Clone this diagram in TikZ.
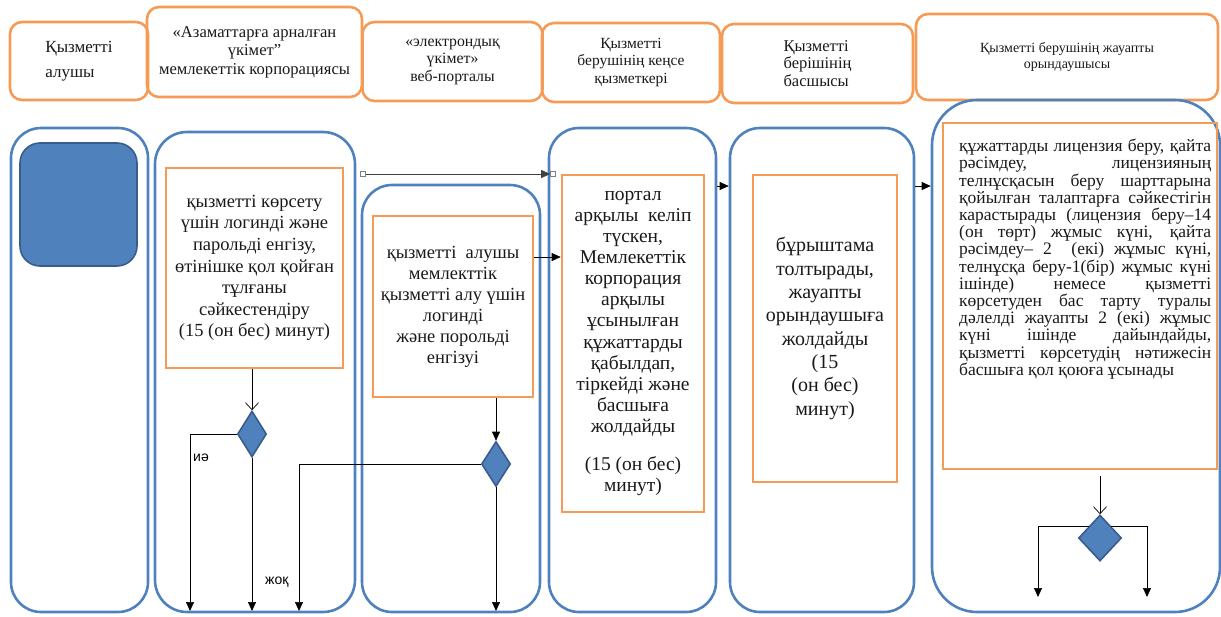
\documentclass[tikz,border=0pt]{standalone}
\usepackage{fontspec}
\setmainfont{Liberation Serif}
\newfontfamily\labelfont{Liberation Sans}
\usepackage{tikz}
\usetikzlibrary{shapes.geometric,arrows.meta}
\definecolor{laneblue}{RGB}{79,129,189}
\definecolor{darkblue}{RGB}{56,93,138}
\definecolor{boxorange}{RGB}{245,155,85}

\begin{document}
\begin{tikzpicture}[x=1pt,y=1pt,yscale=-1,xscale=1,
    header/.style={draw=boxorange,line width=2.6pt,rounded corners=12pt,align=center,inner sep=0pt,text=black!90},
    lane/.style={draw=laneblue,line width=2.6pt,inner sep=0pt},
    stepbox/.style={draw=boxorange,line width=2.6pt,align=center,inner sep=0pt,text=black!90},
    decision/.style={diamond,draw=darkblue,fill=laneblue,line width=1.6pt,inner sep=0pt},
    flow/.style={-{Triangle[length=9pt,width=8pt]},line width=0.7pt},
    open/.style={-{Straight Barb[length=7pt,width=13pt]},line width=0.7pt},
    handle/.style={draw=gray,line width=0.6pt,fill=white,minimum size=5pt,inner sep=0pt}]
    \useasboundingbox (0,0) rectangle (1221,616);

    %Header boxes
    \node[header,minimum width=138pt,minimum height=78pt,align=left,font=\fontsize{17}{25}\selectfont] (hdrRecipient) at (79,61) {Қызметті\\алушы};
    \node[header,minimum width=215pt,minimum height=90pt,font=\fontsize{16.6}{18.5}\selectfont] (hdrCorp) at (254.5,52) {«Азаматтарға арналған\\үкімет"\\мемлекеттік корпорациясы};
    \node[header,minimum width=180pt,minimum height=79pt,font=\fontsize{15.8}{17.5}\selectfont] (hdrPortal) at (452.5,61.5) {«электрондық\\үкімет»\\веб-порталы};
    \node[header,minimum width=178pt,minimum height=79pt,font=\fontsize{15.5}{17.5}\selectfont] (hdrOffice) at (631,62.5) {Қызметті\\берушінің кеңсе\\қызметкері};
    \node[header,minimum width=191pt,minimum height=79pt,align=left,font=\fontsize{16.5}{17.5}\selectfont] (hdrHead) at (817.5,63.5) {Қызметті\\берішінің\\басшысы};
    \node[header,minimum width=302pt,minimum height=86pt,font=\fontsize{14}{16.5}\selectfont] (hdrExec) at (1067,57) {Қызметті берушінің жауапты\\орындаушысы};

    %Lanes
    \node[lane,rounded corners=30pt,minimum width=137pt,minimum height=484pt] (laneRecipient) at (79.5,370) {};
    \node[lane,rounded corners=32pt,minimum width=200pt,minimum height=480pt] (laneCorp) at (255,372) {};
    \node[lane,rounded corners=30pt,minimum width=178pt,minimum height=427pt] (lanePortal) at (451,398.5) {};
    \node[lane,rounded corners=30pt,minimum width=167pt,minimum height=484pt] (laneOffice) at (632.5,370) {};
    \node[lane,rounded corners=30pt,minimum width=184pt,minimum height=484pt] (laneHead) at (822,370) {};
    \node[lane,rounded corners=45pt,minimum width=288pt,minimum height=512pt] (laneExec) at (1076,356) {};

    %Start shape
    \node[draw=darkblue,fill=laneblue,line width=1.6pt,rounded corners=20pt,minimum width=117pt,minimum height=123pt] (startBlock) at (78.5,204.5) {};

    %Step boxes
    \node[stepbox,minimum width=177pt,minimum height=200pt,font=\fontsize{18.5}{21.6}\selectfont] (stepCorp) at (254.5,268)
        {қызметті көрсету\\үшін логинді және\\парольді енгізу,\\өтінішке қол қойған\\тұлғаны\\сәйкестендіру\\(15 (он бес) минут)};
    \node[stepbox,minimum width=160pt,minimum height=181pt,font=\fontsize{18.5}{21}\selectfont] (stepPortal) at (453,306.5)
        {қызметті\ \ алушы\\мемлекттік\\қызметті алу үшін\\логинді\\және порольді\\енгізуі};
    \node[stepbox,minimum width=142pt,minimum height=337pt,font=\fontsize{19.5}{21.1}\selectfont] (stepOffice) at (633,343.5)
        {портал\\арқылы\ \ келіп\\түскен,\\Мемлекеттік\\корпорация\\арқылы\\ұсынылған\\құжаттарды\\қабылдап,\\тіркейді және\\басшыға\\жолдайды\\[17pt](15 (он бес)\\минут)};
    \node[stepbox,minimum width=144pt,minimum height=307pt,font=\fontsize{20}{23.3}\selectfont] (stepHead) at (825,328.5)
        {бұрыштама\\толтырады,\\жауапты\\орындаушыға\\жолдайды\\(15\\(он бес)\\минут)};
    \node[stepbox,minimum width=274pt,minimum height=346pt] (stepExec) at (1080,296) {};
    % Text Node
    \node[anchor=north west,inner sep=0pt,align=left,text=black!90,font=\fontsize{17.5}{17.2}\selectfont] (textExec) at (959,139)
        {\makebox[252pt][s]{құжаттарды лицензия беру, қайта}\\
         \makebox[252pt][s]{рәсімдеу, лицензияның}\\
         \makebox[252pt][s]{телнұсқасын беру шарттарына}\\
         \makebox[252pt][s]{қойылған талаптарға сәйкестігін}\\
         \makebox[252pt][s]{карастырады (лицензия беру–14}\\
         \makebox[252pt][s]{(он төрт) жұмыс күні, қайта}\\
         \makebox[252pt][s]{рәсімдеу– 2\ \ (екі) жұмыс күні,}\\
         \makebox[252pt][s]{телнұсқа беру-1(бір) жұмыс күні}\\
         \makebox[252pt][s]{ішінде) немесе қызметті}\\
         \makebox[252pt][s]{көрсетуден бас тарту туралы}\\
         \makebox[252pt][s]{дәлелді жауапты 2 (екі) жұмыс}\\
         \makebox[252pt][s]{күні ішінде дайындайды,}\\
         \makebox[252pt][s]{қызметті көрсетудің нәтижесін}\\
         басшыға қол қоюға ұсынады};

    %Decisions
    \node[decision,minimum width=29pt,minimum height=46pt] (decCorp) at (252,434) {};
    \node[decision,minimum width=29pt,minimum height=45pt] (decPortal) at (496,464) {};
    \node[decision,minimum width=43pt,minimum height=46pt] (decExec) at (1100,538) {};

    %Handles
    \node[handle] (handleA) at (363,174) {};
    \node[handle] (handleB) at (553,174) {};

    %Ends
    \coordinate (endYes) at (190,611);
    \coordinate (endCorp) at (252,611);
    \coordinate (endNo) at (299,611);
    \coordinate (endPortal) at (496,611);
    \coordinate (endExecL) at (1038,597);
    \coordinate (endExecR) at (1147,597);
    \coordinate (rowA) at (0,186);
    \coordinate (rowB) at (0,257);

    %Connectors
    \draw[open] (stepCorp.south -| decCorp) -- (decCorp.north);
    \draw[flow] (decCorp.west) -| (endYes);
    \draw[flow] (decCorp.south) -- (endCorp);
    \draw[flow] (stepPortal.south -| decPortal) -- (decPortal.north);
    \draw[flow] (decPortal.west) -| (endNo);
    \draw[flow] (decPortal.south) -- (endPortal);
    \draw[flow,draw=black!75] (handleA.east) -- (handleB.west);
    \draw[flow] (stepPortal.east |- rowB) -- (stepOffice.west |- rowB);
    \draw[flow] (laneOffice.east |- rowA) -- (laneHead.west |- rowA);
    \draw[flow] (laneHead.east |- rowA) -- (laneExec.west |- rowA);
    \draw[open,shorten <=6pt] (stepExec.south -| decExec) -- (decExec.north);
    \draw[flow] (decExec.north west) -| (endExecL);
    \draw[flow] (decExec.north east) -| (endExecR);

    % Text Node
    \node[font=\labelfont\fontsize{14}{16}\selectfont,anchor=west,inner sep=0pt] (lblYes) at (193,458) {иә};
    % Text Node
    \node[font=\labelfont\fontsize{14}{16}\selectfont,anchor=west,inner sep=0pt] (lblNo) at (265,582) {жоқ};

\end{tikzpicture}
\end{document}
